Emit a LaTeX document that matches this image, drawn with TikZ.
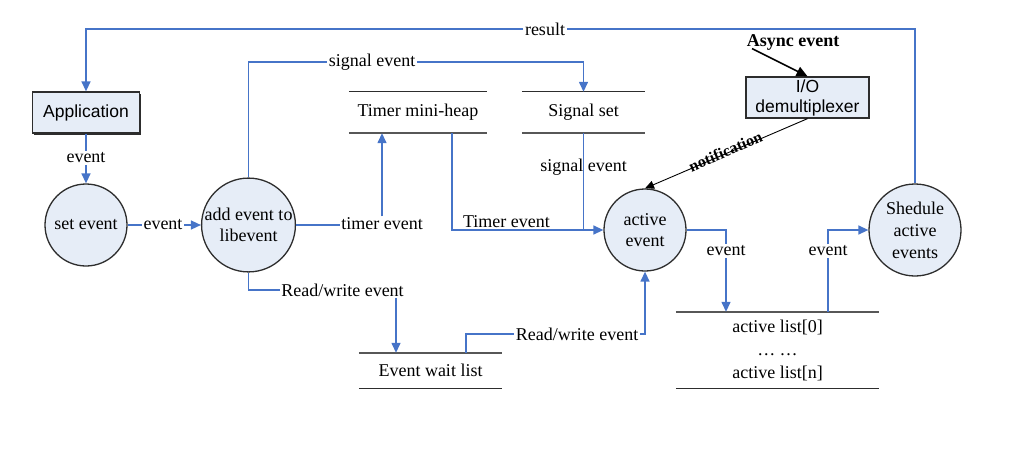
\documentclass[tikz,border=0pt]{standalone}
\usepackage{fontspec}
\setmainfont{Liberation Serif}
\setsansfont{Liberation Sans}
\usetikzlibrary{arrows.meta,calc}
\definecolor{lineblue}{RGB}{70,116,200}
\definecolor{procfill}{RGB}{230,237,247}
\definecolor{edgegray}{RGB}{45,45,45}
\tikzset{
  flow/.style={draw=lineblue,line width=1.4pt},
  arr/.style={-{Triangle[length=10pt,width=9pt]}},
  proc/.style={circle,draw=edgegray,fill=procfill,line width=1.3pt,align=center,inner sep=0pt},
  boxnode/.style={rectangle,draw=edgegray,fill=procfill,line width=1.3pt,align=center,inner sep=0pt,font=\sffamily\fontsize{17.5}{21}\selectfont},
  lbl/.style={inner sep=1.5pt},
  store/.style={rectangle,inner sep=0pt,align=center},
  thinline/.style={draw=edgegray,line width=1pt},
  thickline/.style={draw=edgegray!80,line width=2.2pt},
}
\begin{document}
\begin{tikzpicture}[x=1pt,y=-1pt,font=\fontsize{18}{21}\selectfont]
\useasboundingbox (0,0) rectangle (1016,461);
% processes
\fill[edgegray] (33.5,93.5) rectangle (140.5,134.5);
\node[boxnode,minimum width=107pt,minimum height=41pt] (app) at (86,112.5) {Application};
\node[boxnode,minimum width=123pt,minimum height=41pt,font=\sffamily\fontsize{17.5}{20}\selectfont] (io) at (807.5,97.5) {I/O\\demultiplexer};
\node[proc,minimum size=82pt] (set) at (86,225) {set event};
\node[proc,minimum size=91pt] (add) at (248.5,225) {add event to\\libevent};
\node[proc,minimum size=82pt] (act) at (645,230) {active\\event};
\node[proc,minimum size=92pt,font=\fontsize{18}{22}\selectfont] (sch) at (915,230) {Shedule\\active\\events};
% stores
\node[store,minimum width=138pt,minimum height=41pt] (tmh) at (418,112.5) {Timer mini-heap};
\draw[thinline] (tmh.north west) -- (tmh.north east);
\draw[thickline] (tmh.south west) -- (tmh.south east);
\node[store,minimum width=123pt,minimum height=41pt] (sig) at (583.5,112.5) {Signal set};
\draw[thinline] (sig.north west) -- (sig.north east);
\draw[thickline] (sig.south west) -- (sig.south east);
\node[store,minimum width=143pt,minimum height=35pt] (ewl) at (430.5,370.5) {Event wait list};
\draw[thickline] (ewl.north west) -- (ewl.north east);
\draw[thinline] (ewl.south west) -- (ewl.south east);
\node[store,minimum width=203pt,minimum height=76pt,font=\fontsize{18}{23}\selectfont] (al) at (777.5,350) {active list[0]\\… …\\active list[n]};
\draw[thickline] (al.north west) -- (al.north east);
\draw[thinline] (al.south west) -- (al.south east);
% labels
\node[lbl] (res) at (545,29) {result};
\node[lbl] (ev1) at (86,158) {event};
\node[lbl] (ev2) at (163,225) {event};
\node[lbl] (sevl) at (372,62) {signal event};
\node[lbl] (tev) at (382,224) {timer event};
\node[lbl] (rw1) at (342.5,290) {Read/write event};
\node[lbl] (rw2) at (577,334) {Read/write event};
\node[lbl] (ev3) at (726,251) {event};
\node[lbl] (ev4) at (828,251) {event};
\node[lbl,font=\bfseries\fontsize{18}{21}\selectfont] (async) at (793,42) {Async event};
% connectors
\draw[flow] (sch.north) |- (res.east);
\draw[flow,arr] (res.west) -| (app.north);
\draw[flow] (app.south) -- (ev1.north);
\draw[flow,arr] (ev1.south) -- (set.north);
\draw[flow] (set.east) -- (ev2.west);
\draw[flow,arr] (ev2.east) -- (add.west);
\draw[flow] (add.north) |- (sevl.west);
\draw[flow,arr] (sevl.east) -| (sig.north);
\draw[flow] (add.east) -- (add.east -| tev.west);
\draw[flow,arr] (tev.north) -- (tev.north |- tmh.south);
\draw[flow,arr] ([xshift=34pt]tmh.south) |- node[pos=0.68,above,inner sep=2pt] {Timer event} (act.west);
\draw[flow] (sig.south) -- node[pos=0.35,inner sep=0pt] {signal event} (sig.south |- act.west);
\draw[flow] (add.south) |- (rw1.west);
\draw[flow,arr] ([xshift=53.5pt]rw1.south) -- ([xshift=53.5pt]rw1.south |- ewl.north);
\draw[flow] ([xshift=35.5pt]ewl.north) |- (rw2.west);
\draw[flow,arr] (rw2.east) -| (act.south);
\draw[flow] (act.east) -| (ev3.north);
\draw[flow,arr] (ev3.south) -- (ev3.south |- al.north);
\draw[flow] (ev4.south |- al.north) -- (ev4.south);
\draw[flow,arr] (ev4.north) |- (sch.west);
\draw[black,line width=1.5pt,-{Triangle[length=11pt,width=10pt]}] ([xshift=7pt,yshift=3pt]async.south west) -- (io.north);
\draw[black,line width=0.9pt,-{Triangle[length=9pt,width=8pt]}] (io.south) -- node[sloped,above,inner sep=-4pt,font=\bfseries\fontsize{16}{20}\selectfont] {notification} (act.north);
\end{tikzpicture}
\end{document}
